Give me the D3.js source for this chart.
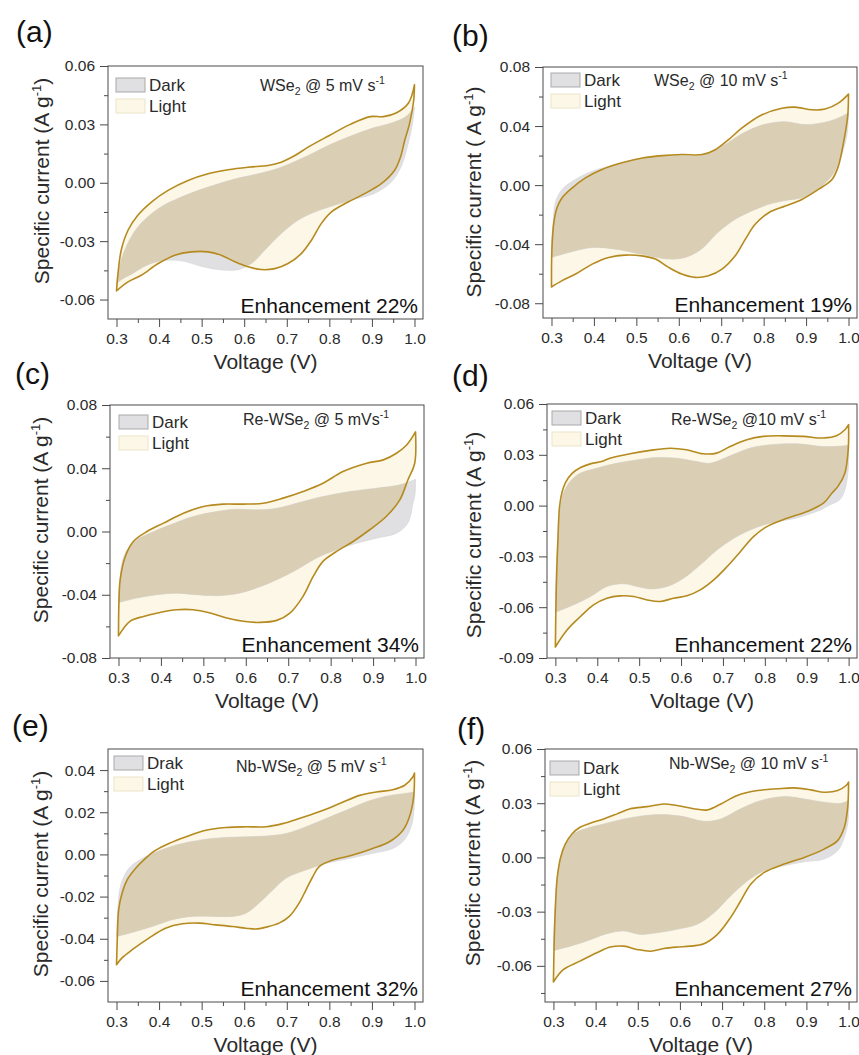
<!DOCTYPE html>
<html lang="en">
<head>
<meta charset="UTF-8">
<title>CV loops, dark vs light</title>
<script src="https://d3js.org/d3.v7.min.js"></script>
<style>
  body { margin: 0; background: #fff; }
  svg { display: block; font-family: Arial, "Liberation Sans", sans-serif; }
</style>
</head>
<body>
<svg id="chart" width="859" height="1055"></svg>
<script>
// ---- data: [voltage V, specific current A/g], anodic scan 0.3 -> 1.0 then back ----
const lightA = [[0.300,-0.0555],[0.3035,-0.0466],[0.311,-0.0347],[0.327,-0.0244],[0.350,-0.0167],[0.382,-0.0099],[0.421,-0.0039],[0.468,0.0012],[0.515,0.0046],[0.562,0.0067],[0.609,0.008],[0.656,0.0089],[0.687,0.0106],[0.719,0.014],[0.750,0.0183],[0.800,0.0243],[0.849,0.030],[0.896,0.034],[0.927,0.034],[0.958,0.036],[0.986,0.041],[1.000,0.0504],
  [0.998,0.042],[0.988,0.030],[0.977,0.0217],[0.967,0.0131],[0.953,0.0063],[0.922,-0.0005],[0.883,-0.0056],[0.844,-0.0099],[0.805,-0.015],[0.781,-0.021],[0.758,-0.0295],[0.734,-0.0364],[0.703,-0.0415],[0.672,-0.0441],[0.640,-0.0446],[0.609,-0.0432],[0.578,-0.0406],[0.546,-0.0372],[0.515,-0.0355],[0.476,-0.0355],[0.437,-0.0372],[0.398,-0.0415],[0.358,-0.0475],[0.327,-0.0509],[0.300,-0.0555]];
const darkA = [[0.300,-0.052],[0.306,-0.044],[0.319,-0.0347],[0.350,-0.0227],[0.398,-0.0133],[0.452,-0.0073],[0.515,-0.0022],[0.578,0.002],[0.632,0.0046],[0.687,0.008],[0.750,0.014],[0.797,0.0191],[0.850,0.024],[0.900,0.028],[0.950,0.031],[0.980,0.034],[1.000,0.039],
  [0.995,0.030],[0.985,0.020],[0.969,0.0085],[0.946,0.0005],[0.906,-0.0055],[0.859,-0.0085],[0.812,-0.0116],[0.766,-0.015],[0.726,-0.0193],[0.687,-0.0261],[0.648,-0.0347],[0.620,-0.041],[0.595,-0.044],[0.577,-0.0449],[0.538,-0.0446],[0.499,-0.0429],[0.452,-0.0401],[0.410,-0.040],[0.370,-0.0425],[0.335,-0.047],[0.310,-0.050],[0.300,-0.052]];

const lightB = [[0.300,-0.069],[0.301,-0.0434],[0.3055,-0.0254],[0.313,-0.0153],[0.325,-0.0085],[0.349,-0.0018],[0.380,0.0049],[0.419,0.0106],[0.466,0.0151],[0.514,0.0184],[0.561,0.020],[0.608,0.0207],[0.655,0.0207],[0.686,0.024],[0.718,0.031],[0.749,0.0387],[0.796,0.0476],[0.843,0.052],[0.874,0.0528],[0.914,0.051],[0.945,0.0515],[0.976,0.0555],[1.000,0.0616],
  [0.998,0.0465],[0.988,0.0285],[0.976,0.0128],[0.961,0.0038],[0.929,-0.0029],[0.890,-0.0097],[0.851,-0.0142],[0.812,-0.0187],[0.780,-0.0265],[0.757,-0.0366],[0.733,-0.0479],[0.702,-0.0569],[0.670,-0.0614],[0.639,-0.0625],[0.607,-0.0602],[0.576,-0.0557],[0.545,-0.0501],[0.513,-0.0479],[0.474,-0.0474],[0.435,-0.049],[0.396,-0.0535],[0.357,-0.0602],[0.325,-0.0647],[0.300,-0.069]];
const darkB = [[0.300,-0.049],[0.301,-0.035],[0.304,-0.0254],[0.309,-0.0119],[0.325,-0.0029],[0.356,0.0038],[0.396,0.0094],[0.450,0.014],[0.500,0.0175],[0.550,0.0195],[0.600,0.020],[0.650,0.020],[0.700,0.026],[0.750,0.035],[0.800,0.041],[0.850,0.043],[0.900,0.041],[0.950,0.043],[0.980,0.046],[1.000,0.049],
  [0.997,0.035],[0.988,0.024],[0.980,0.0173],[0.960,0.006],[0.921,-0.004],[0.890,-0.0085],[0.851,-0.0105],[0.812,-0.013],[0.772,-0.0175],[0.733,-0.0232],[0.692,-0.0321],[0.653,-0.0434],[0.615,-0.049],[0.576,-0.0501],[0.513,-0.0468],[0.451,-0.0434],[0.396,-0.0423],[0.341,-0.0456],[0.300,-0.049]];

const lightC = [[0.300,-0.066],[0.301,-0.045],[0.304,-0.0305],[0.316,-0.0158],[0.335,-0.0063],[0.367,0.000],[0.406,0.0053],[0.453,0.0116],[0.500,0.0158],[0.547,0.0173],[0.594,0.0173],[0.641,0.0179],[0.688,0.0211],[0.735,0.0253],[0.782,0.0305],[0.829,0.0379],[0.885,0.0432],[0.924,0.0453],[0.955,0.0495],[0.979,0.0547],[1.000,0.063],
  [0.998,0.043],[0.982,0.0326],[0.963,0.020],[0.931,0.0095],[0.892,0.0011],[0.853,-0.0063],[0.814,-0.0126],[0.782,-0.0189],[0.759,-0.0284],[0.735,-0.041],[0.704,-0.0516],[0.673,-0.0562],[0.633,-0.0575],[0.594,-0.0568],[0.555,-0.0547],[0.516,-0.0516],[0.476,-0.0495],[0.437,-0.0495],[0.398,-0.0512],[0.359,-0.0537],[0.327,-0.0568],[0.300,-0.066]];
const darkC = [[0.300,-0.045],[0.303,-0.032],[0.308,-0.020],[0.320,-0.0116],[0.343,-0.0053],[0.375,-0.001],[0.422,0.0042],[0.476,0.0095],[0.531,0.0126],[0.578,0.0141],[0.625,0.0137],[0.673,0.0147],[0.720,0.0179],[0.782,0.0221],[0.845,0.0253],[0.908,0.0274],[0.963,0.0295],[1.000,0.033],
  [0.999,0.024],[0.994,0.0179],[0.982,0.0053],[0.955,-0.0011],[0.908,-0.0042],[0.861,-0.0074],[0.814,-0.0116],[0.767,-0.0168],[0.720,-0.0242],[0.673,-0.0305],[0.625,-0.0358],[0.578,-0.0394],[0.531,-0.0406],[0.484,-0.040],[0.437,-0.039],[0.390,-0.040],[0.343,-0.0421],[0.300,-0.045]];

const lightD = [[0.300,-0.0835],[0.302,-0.0498],[0.306,-0.0203],[0.310,-0.0006],[0.316,0.008],[0.325,0.014],[0.340,0.019],[0.360,0.0225],[0.385,0.0248],[0.410,0.026],[0.430,0.028],[0.478,0.0306],[0.526,0.0326],[0.574,0.0339],[0.613,0.033],[0.653,0.0306],[0.685,0.031],[0.717,0.0349],[0.757,0.0389],[0.796,0.0409],[0.844,0.0412],[0.892,0.0409],[0.940,0.0399],[0.971,0.0412],[0.991,0.0448],[1.000,0.0478],
  [0.999,0.033],[0.991,0.0191],[0.975,0.0115],[0.960,0.0073],[0.940,0.0014],[0.901,-0.0035],[0.853,-0.0075],[0.805,-0.0124],[0.773,-0.0183],[0.742,-0.0271],[0.710,-0.036],[0.678,-0.0439],[0.646,-0.0498],[0.614,-0.0533],[0.582,-0.0547],[0.551,-0.0566],[0.519,-0.0557],[0.487,-0.0537],[0.455,-0.0533],[0.423,-0.0547],[0.391,-0.0586],[0.360,-0.0655],[0.328,-0.0734],[0.300,-0.0835]];
const darkD = [[0.300,-0.063],[0.302,-0.038],[0.307,-0.0144],[0.313,0.000],[0.319,0.0073],[0.335,0.0142],[0.359,0.0191],[0.399,0.0221],[0.446,0.025],[0.494,0.027],[0.542,0.0284],[0.590,0.028],[0.637,0.026],[0.669,0.025],[0.717,0.0294],[0.765,0.034],[0.812,0.0359],[0.876,0.0365],[0.940,0.0349],[0.988,0.0353],[1.000,0.036],
  [0.999,0.021],[0.991,0.0093],[0.979,0.0035],[0.956,0.0005],[0.932,-0.0026],[0.880,-0.007],[0.830,-0.0095],[0.797,-0.0114],[0.765,-0.0144],[0.726,-0.0193],[0.686,-0.0262],[0.646,-0.035],[0.606,-0.0429],[0.567,-0.0478],[0.527,-0.0492],[0.495,-0.0478],[0.463,-0.0462],[0.423,-0.0478],[0.384,-0.0537],[0.344,-0.0586],[0.300,-0.063]];

const lightE = [[0.300,-0.0523],[0.302,-0.039],[0.305,-0.0263],[0.313,-0.0184],[0.325,-0.0121],[0.345,-0.0066],[0.368,-0.0019],[0.392,0.002],[0.423,0.0052],[0.462,0.0083],[0.510,0.0115],[0.557,0.0128],[0.604,0.0131],[0.651,0.0131],[0.690,0.0146],[0.729,0.017],[0.776,0.0202],[0.824,0.0241],[0.871,0.028],[0.910,0.0296],[0.949,0.0307],[0.977,0.0328],[0.996,0.0367],[1.000,0.0386],
  [0.998,0.0272],[0.988,0.0178],[0.973,0.0115],[0.941,0.006],[0.902,0.0028],[0.855,-0.0003],[0.808,-0.0027],[0.776,-0.0058],[0.761,-0.0106],[0.745,-0.0169],[0.729,-0.0231],[0.706,-0.0294],[0.682,-0.0326],[0.651,-0.0345],[0.627,-0.0354],[0.604,-0.035],[0.572,-0.0342],[0.533,-0.0334],[0.494,-0.0326],[0.455,-0.0329],[0.415,-0.035],[0.376,-0.0397],[0.337,-0.0452],[0.313,-0.0491],[0.300,-0.0523]];
const darkE = [[0.300,-0.0389],[0.304,-0.0231],[0.309,-0.0153],[0.321,-0.009],[0.337,-0.005],[0.368,-0.0011],[0.415,0.0028],[0.462,0.0055],[0.525,0.0076],[0.588,0.0083],[0.651,0.0087],[0.698,0.0099],[0.745,0.0131],[0.792,0.017],[0.839,0.0209],[0.886,0.0249],[0.933,0.0276],[0.973,0.0288],[1.000,0.0296],
  [0.999,0.021],[0.992,0.0131],[0.976,0.0068],[0.949,0.0028],[0.902,0.0005],[0.847,-0.0019],[0.792,-0.0043],[0.745,-0.0074],[0.698,-0.0113],[0.667,-0.0169],[0.635,-0.0231],[0.604,-0.0279],[0.572,-0.0294],[0.525,-0.0294],[0.478,-0.0294],[0.431,-0.031],[0.384,-0.0342],[0.337,-0.037],[0.300,-0.0389]];

const lightF = [[0.300,-0.0689],[0.302,-0.0444],[0.305,-0.0259],[0.309,-0.0111],[0.317,0.000],[0.328,0.0074],[0.344,0.013],[0.363,0.0167],[0.387,0.0189],[0.419,0.0213],[0.451,0.0241],[0.482,0.0269],[0.522,0.0281],[0.562,0.0296],[0.593,0.0287],[0.633,0.0269],[0.665,0.0263],[0.697,0.0296],[0.736,0.0343],[0.784,0.037],[0.831,0.038],[0.871,0.0385],[0.911,0.0374],[0.942,0.0361],[0.974,0.037],[0.994,0.0398],[1.000,0.0417],
  [0.998,0.0278],[0.990,0.0167],[0.974,0.0093],[0.942,0.0046],[0.895,0.000],[0.847,-0.0037],[0.800,-0.0083],[0.768,-0.0148],[0.744,-0.0241],[0.720,-0.0333],[0.689,-0.0426],[0.657,-0.0478],[0.625,-0.0491],[0.593,-0.0496],[0.562,-0.0504],[0.530,-0.0519],[0.498,-0.0509],[0.467,-0.0491],[0.435,-0.0496],[0.403,-0.0528],[0.363,-0.0574],[0.324,-0.062],[0.300,-0.0689]];
const darkF = [[0.300,-0.0515],[0.304,-0.0259],[0.309,-0.011],[0.316,-0.0019],[0.328,0.0065],[0.348,0.013],[0.379,0.0161],[0.419,0.0185],[0.467,0.0213],[0.514,0.0231],[0.562,0.0237],[0.609,0.0226],[0.657,0.020],[0.697,0.0213],[0.744,0.0269],[0.792,0.0315],[0.847,0.0337],[0.895,0.0324],[0.942,0.0306],[0.982,0.030],[1.000,0.0315],
  [0.999,0.0204],[0.990,0.0111],[0.974,0.0037],[0.942,-0.0009],[0.895,-0.0024],[0.847,-0.0046],[0.800,-0.0074],[0.760,-0.013],[0.720,-0.0213],[0.681,-0.0306],[0.641,-0.037],[0.593,-0.0398],[0.546,-0.0417],[0.506,-0.0426],[0.467,-0.0407],[0.427,-0.0422],[0.379,-0.0463],[0.340,-0.0491],[0.300,-0.0515]];

// ticks and labels
const xDomain = [0.28, 1.02];
const xTicks = [0.3, 0.4, 0.5, 0.6, 0.7, 0.8, 0.9, 1.0];
const xMinor = [0.35, 0.45, 0.55, 0.65, 0.75, 0.85, 0.95];
const yDomains = [[-0.07, 0.06], [-0.09, 0.08], [-0.08, 0.08], [-0.09, 0.06], [-0.07, 0.05], [-0.08, 0.06]];
const yTicks = [
  [-0.06, -0.03, 0, 0.03, 0.06],
  [-0.08, -0.04, 0, 0.04, 0.08],
  [-0.08, -0.04, 0, 0.04, 0.08],
  [-0.09, -0.06, -0.03, 0, 0.03, 0.06],
  [-0.06, -0.04, -0.02, 0, 0.02, 0.04],
  [-0.06, -0.03, 0, 0.03, 0.06]
];
const yMinor = [
  [-0.045, -0.015, 0.015, 0.045],
  [-0.06, -0.02, 0.02, 0.06],
  [-0.06, -0.02, 0.02, 0.06],
  [-0.075, -0.045, -0.015, 0.015, 0.045],
  [-0.05, -0.03, -0.01, 0.01, 0.03],
  [-0.075, -0.045, -0.015, 0.015, 0.045]
];
const panelLetters = ["(a)", "(b)", "(c)", "(d)", "(e)", "(f)"];
const darkLabels = ["Dark", "Dark", "Dark", "Dark", "Drak", "Dark"];
const lightLabels = ["Light", "Light", "Light", "Light", "Light", "Light"];
const enhancements = ["Enhancement 22%", "Enhancement 19%", "Enhancement 34%", "Enhancement 22%", "Enhancement 32%", "Enhancement 27%"];
// [text before subscript 2, text before superscript -1]
const conditions = [
  ["WSe", " @ 5 mV s"], ["WSe", " @ 10 mV s"], ["Re-WSe", " @ 5 mVs"],
  ["Re-WSe", " @10 mV s"], ["Nb-WSe", " @ 5 mV s"], ["Nb-WSe", " @ 10 mV s"]
];
const yTitles = ["Specific current (A g", "Specific current ( A g", "Specific current (A g",
  "Specific current (A g", "Specific current (A g", "Specific current (A g"];
const lightLoops = [lightA, lightB, lightC, lightD, lightE, lightF];
const darkLoops = [darkA, darkB, darkC, darkD, darkE, darkF];

// layout: plot box, letter pos, y-title pos, condition text pos, legend offset
const boxes = [
  {l: 108, t: 66, r: 423, b: 319, lx: 16, ly: 42, tx: 49, ty: 181, cx: 260, cy: 91, gx: 8, gy: 12},
  {l: 543, t: 67, r: 857, b: 318, lx: 452, ly: 46, tx: 481, ty: 192, cx: 654, cy: 86, gx: 8, gy: 6},
  {l: 110, t: 405, r: 424, b: 658, lx: 15, ly: 384, tx: 48, ty: 520, cx: 243, cy: 425, gx: 9, gy: 10},
  {l: 547, t: 404, r: 857, b: 658, lx: 452, ly: 386, tx: 481, ty: 535, cx: 671, cy: 425, gx: 5, gy: 7},
  {l: 108, t: 749, r: 423, b: 1002, lx: 12, ly: 736, tx: 48, ty: 874, cx: 236, cy: 772, gx: 6, gy: 7},
  {l: 545, t: 749, r: 857, b: 1002, lx: 457, ly: 739, tx: 480, ty: 863, cx: 669, cy: 769, gx: 5, gy: 12}
];

const cream = "#fcf7e7", grey = "#e0e0e2", tan = "#dacfb5", gold = "#b58a1f", ink = "#2a2a2a";

const svg = d3.select("#chart");
const defs = svg.append("defs");

boxes.forEach((p, i) => {
  const x = d3.scaleLinear().domain(xDomain).range([p.l, p.r]);
  const y = d3.scaleLinear().domain(yDomains[i]).range([p.b, p.t]);
  const line = d3.line().x(d => x(d[0])).y(d => y(d[1])).curve(d3.curveCatmullRom.alpha(0.5));
  // split each loop at the vertex so both scan ends stay sharp
  const loop = pts => {
    const k = d3.maxIndex(pts, d => d[0]);
    return line(pts.slice(0, k + 1)) + line(pts.slice(k)).replace(/^M/, "L") + "Z";
  };
  const g = svg.append("g");
  const lightPath = loop(lightLoops[i]), darkPath = loop(darkLoops[i]);

  defs.append("clipPath").attr("id", "lclip" + i).append("path").attr("d", lightPath);

  g.append("path").attr("d", lightPath).attr("fill", cream);
  g.append("path").attr("d", darkPath).attr("fill", grey).attr("stroke", "#d4d4d6").attr("stroke-width", 0.6);
  g.append("path").attr("d", darkPath).attr("fill", tan).attr("clip-path", `url(#lclip${i})`);
  g.append("path").attr("d", lightPath).attr("fill", "none").attr("stroke", gold)
    .attr("stroke-width", 1.6).attr("stroke-linejoin", "round");

  // frame
  g.append("rect").attr("x", p.l).attr("y", p.t).attr("width", p.r - p.l).attr("height", p.b - p.t)
    .attr("fill", "none").attr("stroke", "#4a4a4a").attr("stroke-width", 1);

  const styleAxis = a => {
    a.select(".domain").remove();
    a.selectAll(".tick line").attr("stroke", "#4a4a4a");
    a.selectAll(".tick text").attr("fill", ink).attr("font-size", 15.5)
      .attr("font-family", "Arial, 'Liberation Sans', sans-serif");
  };
  g.append("g").attr("transform", `translate(0,${p.b})`)
    .call(d3.axisBottom(x).tickValues(xTicks).tickSize(8).tickPadding(6).tickFormat(d => d.toFixed(1)))
    .call(styleAxis);
  g.append("g").attr("transform", `translate(0,${p.b})`)
    .call(d3.axisBottom(x).tickValues(xMinor).tickSize(4).tickFormat(""))
    .call(styleAxis);
  g.append("g").attr("transform", `translate(${p.l},0)`)
    .call(d3.axisLeft(y).tickValues(yTicks[i]).tickSize(8).tickPadding(5).tickFormat(d => d.toFixed(2)))
    .call(styleAxis);
  g.append("g").attr("transform", `translate(${p.l},0)`)
    .call(d3.axisLeft(y).tickValues(yMinor[i]).tickSize(4).tickFormat(""))
    .call(styleAxis);

  // titles
  g.append("text").attr("x", (p.l + p.r) / 2).attr("y", p.b + 50).attr("text-anchor", "middle")
    .attr("font-size", 21).attr("fill", ink).text("Voltage (V)");
  const yt = g.append("text").attr("transform", `translate(${p.tx},${p.ty}) rotate(-90)`)
    .attr("text-anchor", "middle").attr("font-size", 21).attr("fill", ink);
  yt.append("tspan").text(yTitles[i]);
  yt.append("tspan").attr("font-size", 13).attr("dy", -8).text("-1");
  yt.append("tspan").attr("dy", 8).text(")");

  g.append("text").attr("x", p.lx).attr("y", p.ly).attr("font-size", 30).attr("fill", "#111").text(panelLetters[i]);

  // condition label
  const ct = g.append("text").attr("x", p.cx).attr("y", p.cy).attr("font-size", 16).attr("fill", ink);
  ct.append("tspan").text(conditions[i][0]);
  ct.append("tspan").attr("font-size", 10.5).attr("dy", 4).text("2");
  ct.append("tspan").attr("dy", -4).text(conditions[i][1]);
  ct.append("tspan").attr("font-size", 10.5).attr("dy", -7).text("-1");

  g.append("text").attr("x", p.r - 5).attr("y", p.b - 6).attr("text-anchor", "end")
    .attr("font-size", 21).attr("fill", "#111").text(enhancements[i]);

  // legend
  const lx = p.l + p.gx, ly = p.t + p.gy;
  [[darkLabels[i], grey, "#a9a9ab"], [lightLabels[i], cream, "#ece3c8"]].forEach((e, j) => {
    g.append("rect").attr("x", lx).attr("y", ly + j * 21).attr("width", 29).attr("height", 14)
      .attr("fill", e[1]).attr("stroke", e[2]).attr("stroke-width", 1);
    g.append("text").attr("x", lx + 33).attr("y", ly + j * 21 + 13).attr("font-size", 17)
      .attr("fill", ink).text(e[0]);
  });
});
</script>
</body>
</html>
